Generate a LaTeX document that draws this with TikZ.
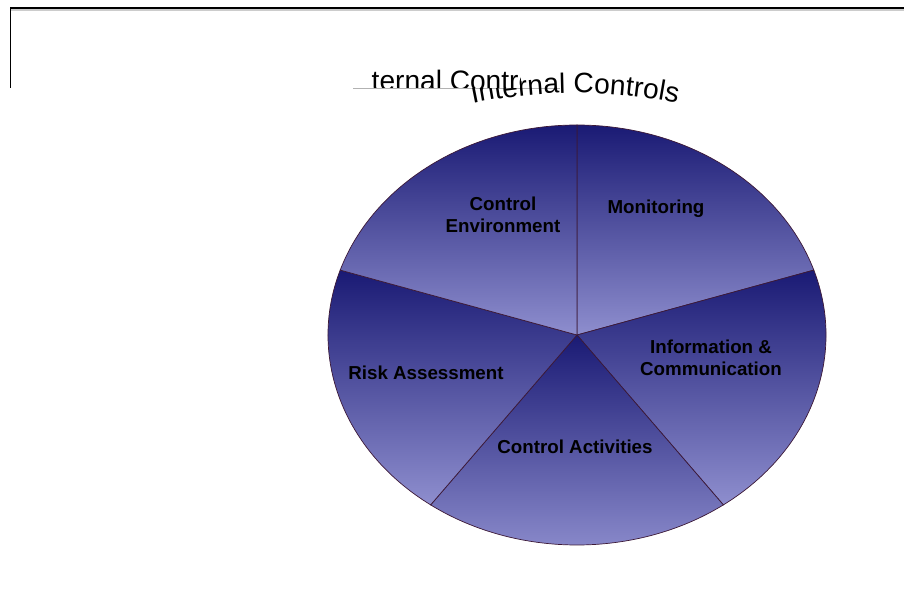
\documentclass[tikz,border=0pt]{standalone}
\usepackage{fontspec}
\setmainfont{Liberation Sans}
\usetikzlibrary{calc,decorations.text}
\definecolor{navy}{RGB}{26,26,116}
\definecolor{lavender}{RGB}{142,142,206}
\definecolor{rim}{RGB}{60,25,55}

\begin{document}
\begin{tikzpicture}[x=0.03cm,y=0.03cm,
    slice/.style={draw=rim,line width=0.6pt,top color=navy,bottom color=lavender},
    part node/.style={font=\bfseries\fontsize{16}{19}\selectfont,align=center,text=black}]
    \useasboundingbox (0,0) rectangle (904,615);

    % frame
    \coordinate (ftl) at (10,607);
    \coordinate (ftr) at (904,607);
    \coordinate (fbl) at (10,527);
    \draw[gray!40,line width=1.2pt] ($(ftl)+(0,-2)$) -- ($(ftr)+(0,-2)$);
    \draw[line width=1.6pt] (ftl) -- (ftr);
    \draw[line width=0.8pt] (ftl) -- (fbl);

    % title, cut off
    \begin{scope}
        \clip (370,527) rectangle (520,560);
        \node (flat) [anchor=base west,inner sep=0pt,font=\fontsize{24}{28}\selectfont] at (348,524) {Internal Controls};
    \end{scope}
    \coordinate (cutl) at (353,527);
    \coordinate (cutr) at (560,527);
    \draw[gray!60,line width=0.5pt] (cutl) -- (cutr);

    % title, curved
    \begin{scope}
        \clip (0,0) rectangle (904,527) (520,527) rectangle (904,615);
        \path[decorate,decoration={text along path,text align=center,
            text={|\fontsize{24}{28}\selectfont|Internal Controls}}]
            (575,17) ++(103:505) arc[start angle=103,end angle=77,radius=505];
    \end{scope}

    % pie
    \coordinate (O) at (577,280);
    \foreach \a in {90,18,-54,-126,-198}
        \path[slice] (O) -- ++(\a:249 and 210) arc[start angle=\a,end angle=\a-72,x radius=249,y radius=210] -- cycle;

    \node (env) [part node] at (503,400) {Control\\Environment};
    \node (mon) [part node] at (656,406) {Monitoring};
    \node (info) [part node] at (711,257) {Information \&\\Communication};
    \node (risk) [part node] at (426,242) {Risk Assessment};
    \node (act) [part node] at (575,168) {Control Activities};
\end{tikzpicture}
\end{document}
